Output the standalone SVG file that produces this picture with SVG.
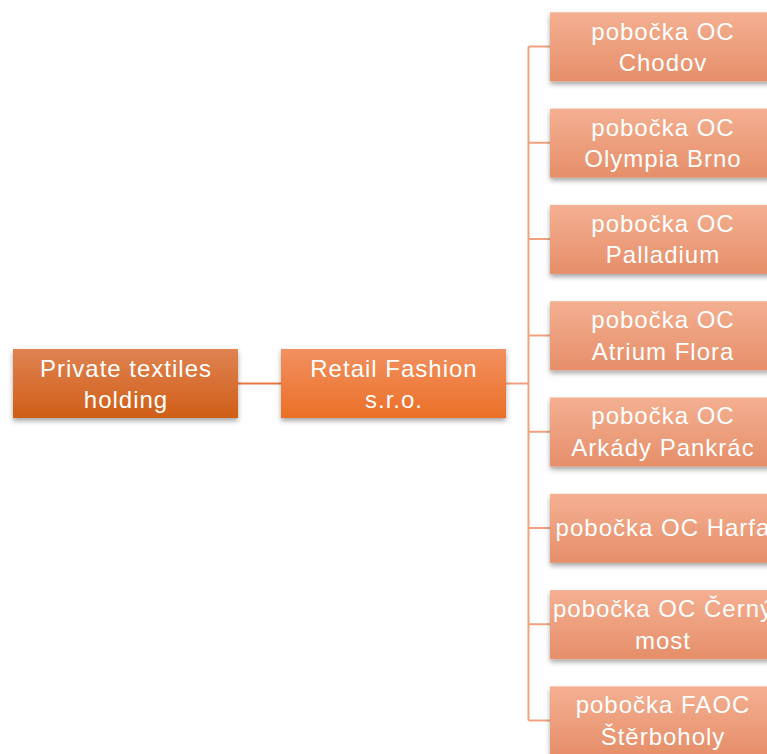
<svg xmlns="http://www.w3.org/2000/svg" width="767" height="754" viewBox="0 0 767 754">
<defs>
<linearGradient id="gRoot" x1="0" y1="0" x2="0" y2="1"><stop offset="0" stop-color="#df8352"/><stop offset="1" stop-color="#d05e17"/></linearGradient>
<linearGradient id="gMid" x1="0" y1="0" x2="0" y2="1"><stop offset="0" stop-color="#f29160"/><stop offset="1" stop-color="#eb6f27"/></linearGradient>
<linearGradient id="gLeaf" x1="0" y1="0" x2="0" y2="1"><stop offset="0" stop-color="#f4b092"/><stop offset="1" stop-color="#e68e69"/></linearGradient>
<filter id="sh" x="-10%" y="-20%" width="120%" height="150%"><feDropShadow dx="0" dy="3" stdDeviation="2.5" flood-color="#000" flood-opacity="0.35"/></filter>
</defs>
<style>
text{font-family:"Liberation Sans",Arial,sans-serif;font-size:24px;letter-spacing:1px;fill:#ffffff;text-anchor:middle}
.leaf rect{fill:url(#gLeaf);filter:url(#sh)}
.conn{stroke:#f0a27f;stroke-width:2;fill:none}
</style>
<rect width="767" height="754" fill="#ffffff"/>
<g id="connectors">
<line x1="238" y1="383.5" x2="281" y2="383.5" stroke="#e8793e" stroke-width="2"/>
<path class="conn" d="M506 383.5H528.5M528.5 46.5V720.5M528.5 46.5H550M528.5 142.8H550M528.5 239.1H550M528.5 335.4H550M528.5 431.7H550M528.5 528H550M528.5 624.3H550M528.5 720.5H550"/>
</g>
<g id="root"><rect x="13" y="349" width="225" height="69" fill="url(#gRoot)" filter="url(#sh)"/><text x="126" y="377">Private textiles</text><text x="126" y="408">holding</text></g>
<g id="retail"><rect x="281" y="349" width="225" height="69" fill="url(#gMid)" filter="url(#sh)"/><text x="394" y="377">Retail Fashion</text><text x="394" y="408">s.r.o.</text></g>
<g id="chodov" class="leaf"><rect x="550" y="12.3" width="225" height="69"/><text x="663" y="39.5">pobočka OC</text><text x="663" y="71">Chodov</text></g>
<g id="olympia" class="leaf"><rect x="550" y="108.6" width="225" height="69"/><text x="663" y="136">pobočka OC</text><text x="663" y="167">Olympia Brno</text></g>
<g id="palladium" class="leaf"><rect x="550" y="204.9" width="225" height="69"/><text x="663" y="232">pobočka OC</text><text x="663" y="263">Palladium</text></g>
<g id="atrium" class="leaf"><rect x="550" y="301.2" width="225" height="69"/><text x="663" y="328">pobočka OC</text><text x="663" y="360">Atrium Flora</text></g>
<g id="arkady" class="leaf"><rect x="550" y="397.5" width="225" height="69"/><text x="663" y="424">pobočka OC</text><text x="663" y="456">Arkády Pankrác</text></g>
<g id="harfa" class="leaf"><rect x="550" y="493.8" width="225" height="69"/><text x="663" y="536">pobočka OC Harfa</text></g>
<g id="cerny" class="leaf"><rect x="550" y="590.1" width="225" height="69"/><text x="663" y="617">pobočka OC Černý</text><text x="663" y="649">most</text></g>
<g id="faoc" class="leaf"><rect x="550" y="686.4" width="225" height="69"/><text x="663" y="713">pobočka FAOC</text><text x="663" y="745">Štěrboholy</text></g>
</svg>
